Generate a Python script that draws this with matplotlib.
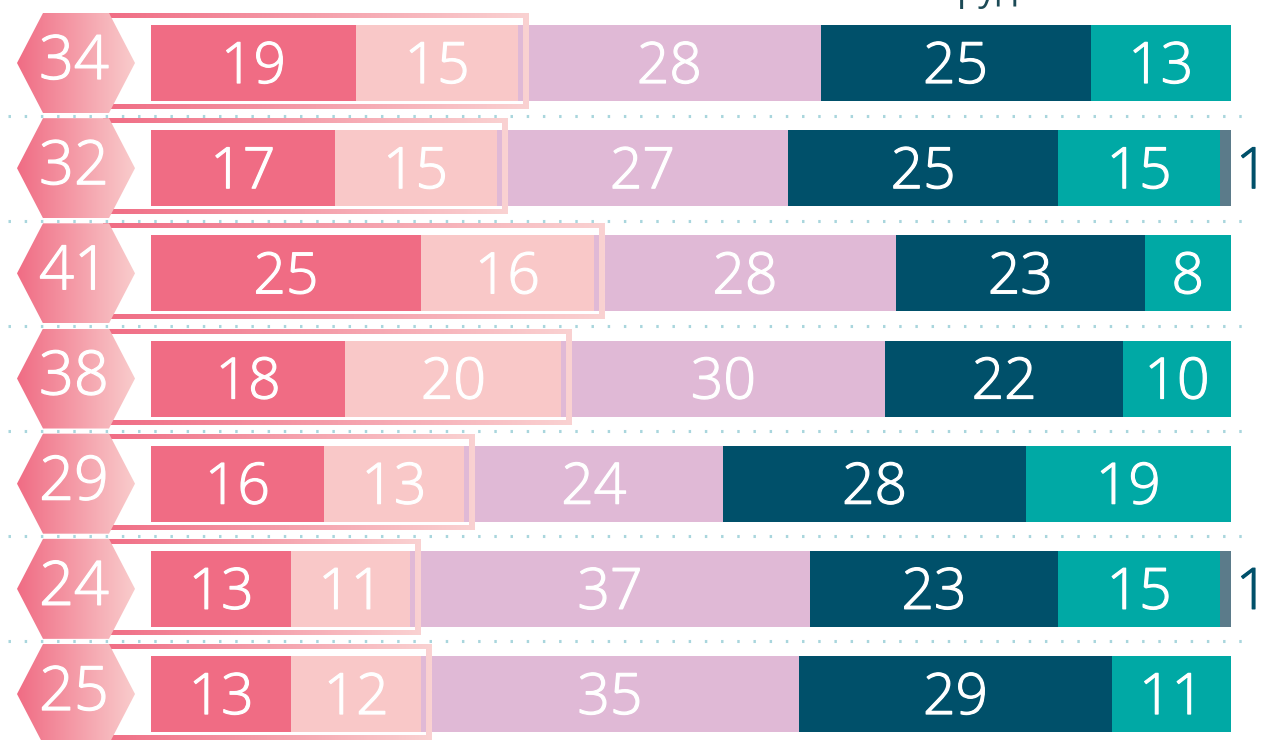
import numpy as np
import matplotlib
matplotlib.use('Agg')
import matplotlib.pyplot as plt
import matplotlib.patheffects as pe
from matplotlib.patches import Polygon, PathPatch
from matplotlib.path import Path
from matplotlib.colors import LinearSegmentedColormap

# ---------------- data ----------------
hex_values = [34, 32, 41, 38, 29, 24, 25]
seg1 = [19, 17, 25, 18, 16, 13, 13]
seg2 = [15, 15, 16, 20, 13, 11, 12]
seg3 = [28, 27, 28, 30, 24, 37, 35]
seg4 = [25, 25, 23, 22, 28, 23, 29]
seg5 = [13, 15, 8, 10, 19, 15, 11]
seg6 = [0, 1, 0, 0, 0, 1, 0]
segments = [seg1, seg2, seg3, seg4, seg5, seg6]
colors = ['#f06c84', '#f9c8c8', '#e0b9d6', '#00506a', '#00a9a5', '#5b7b8a']
header_fragment = 'руд'

FONT = ['Open Sans', 'DejaVu Sans']
plt.rcParams['font.family'] = FONT

W, H = 1261, 740
fig = plt.figure(figsize=(W / 100, H / 100), dpi=100)
ax = fig.add_axes([0, 0, 1, 1])
ax.axis('off')

PX = 10.8      # pixels per percent
X0 = 151       # pixel of 0 %
ROW = 105.17   # pixels per row
Y0 = 63        # pixel of first row centre


def dx(p):
    return p / PX


def dy(p):
    return p / ROW


def thick(col):
    return [pe.withStroke(linewidth=0.9, foreground=col)]


n = len(hex_values)
rows = np.arange(n)
bar_h = dy(76)

# dotted separators
for i in range(n - 1):
    ax.plot([dx(8 - X0), dx(1250 - X0)], [i + 0.5, i + 0.5], color='#a9d6dd',
            lw=2.2, linestyle=(0, (0.8, 4.5)), zorder=1, solid_capstyle='butt')

# bars
left = np.zeros(n)
for k, (seg, col) in enumerate(zip(segments, colors)):
    vals = np.array(seg, dtype=float)
    mask = vals > 0
    ax.barh(rows[mask], vals[mask], left=left[mask], height=bar_h, color=col,
            edgecolor='none', zorder=2)
    for i in rows[mask]:
        if k < 5:
            ax.text(left[i] + vals[i] / 2, i + dy(20), str(int(vals[i])),
                    color='white', fontsize=41, fontweight='light',
                    ha='center', va='baseline', zorder=5,
                    path_effects=thick('white'))
        else:
            ax.text(left[i] + vals[i] + dx(5), i + dy(20), str(int(vals[i])),
                    color='#00506a', fontsize=41, fontweight='light',
                    ha='left', va='baseline', zorder=5,
                    path_effects=thick('#00506a'))
    left = left + vals

grad = np.linspace(0, 1, 256).reshape(1, -1)
pink_cmap = LinearSegmentedColormap.from_list('pk', ['#f06c84', '#fad2d2'])

# frames around the first two segments
for i in rows:
    end = seg1[i] + seg2[i]
    top = i - bar_h / 2
    bot = i + bar_h / 2
    ox0, ox1 = dx(103 - X0), end + dx(11)
    oy0, oy1 = top - dy(12), bot + dy(8)
    ix0, ix1 = dx(109 - X0), end + dx(5)
    iy0, iy1 = top - dy(7), bot + dy(3)
    verts = [(ox0, oy0), (ox1, oy0), (ox1, oy1), (ox0, oy1), (ox0, oy0),
             (ix0, iy0), (ix0, iy1), (ix1, iy1), (ix1, iy0), (ix0, iy0)]
    codes = [Path.MOVETO, Path.LINETO, Path.LINETO, Path.LINETO, Path.CLOSEPOLY] * 2
    ring = PathPatch(Path(verts, codes), facecolor='none', edgecolor='none')
    ax.add_patch(ring)
    im = ax.imshow(grad, cmap=pink_cmap, extent=[ox0, ox1, oy1, oy0],
                   aspect='auto', zorder=3, interpolation='bilinear')
    im.set_clip_path(ring)

# hexagons
hx = dx(76 - X0)
hw, hf, hh = dx(59), dx(33), dy(50)
hex_cmap = LinearSegmentedColormap.from_list('hx', ['#f06c84', '#f9cccc'])
for i in rows:
    pts = [(hx - hw, i), (hx - hf, i - hh), (hx + hf, i - hh), (hx + hw, i),
           (hx + hf, i + hh), (hx - hf, i + hh)]
    poly = Polygon(pts, closed=True, facecolor='none', edgecolor='none')
    ax.add_patch(poly)
    im = ax.imshow(grad, cmap=hex_cmap, extent=[hx - hw, hx + hw, i + hh, i - hh],
                   aspect='auto', zorder=4, interpolation='bilinear')
    im.set_clip_path(poly)
    ax.text(hx - dx(2), i + dy(16), str(hex_values[i]), color='white', fontsize=44,
            fontweight='light', ha='center', va='baseline', zorder=6,
            path_effects=thick('white'))

# cut-off header at the top
ax.text(dx(987 - X0), -Y0 / ROW, header_fragment, color='#1c4a56', fontsize=26,
        ha='center', va='baseline', zorder=6, clip_on=False)

ax.set_xlim(-X0 / PX, (W - X0) / PX)
ax.set_ylim((H - Y0) / ROW, -Y0 / ROW)
fig.savefig('out.png', dpi=100)
